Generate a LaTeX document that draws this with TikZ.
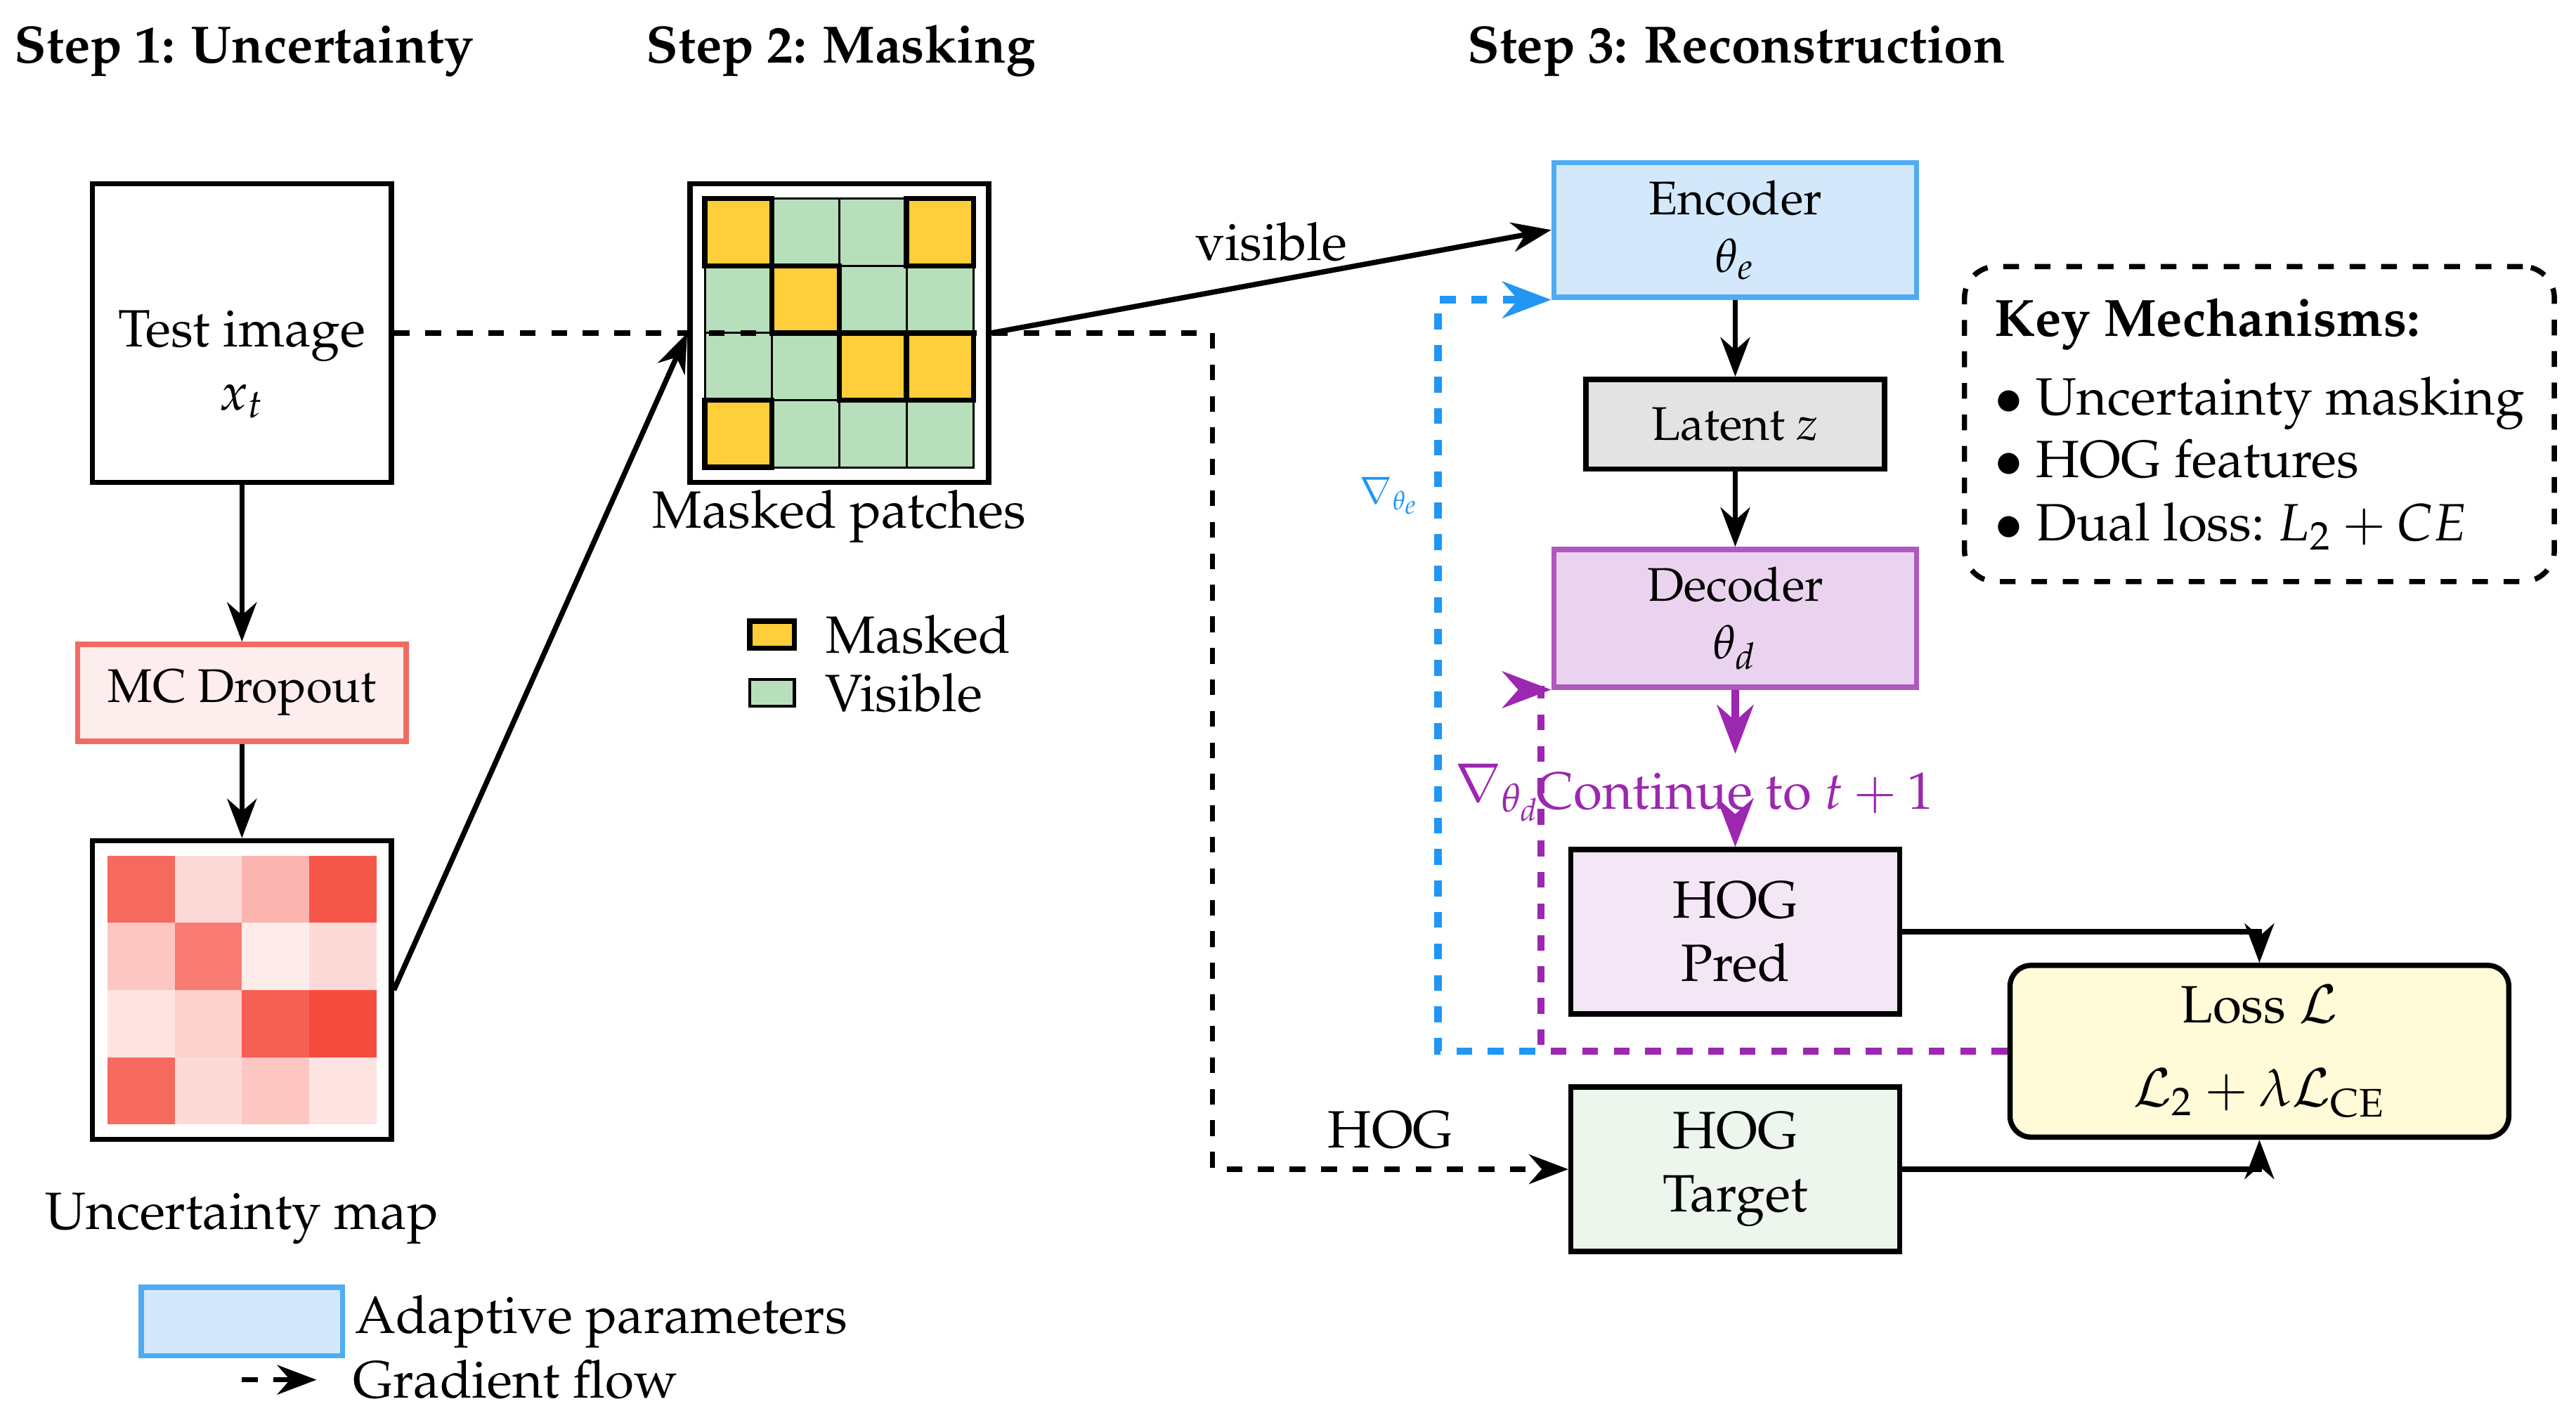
\documentclass[tikz,border=0pt]{standalone}
\usepackage[T1]{fontenc}
\usepackage{mathpazo}
\usepackage{amsmath}
\usepackage{xcolor}
\usetikzlibrary{arrows.meta, positioning, calc}
\definecolor{uncred}{HTML}{F44336}
\definecolor{maskyel}{HTML}{FFCE3A}
\definecolor{visgrn}{HTML}{B8DFBB}
\definecolor{encblue}{HTML}{4FACF3}
\definecolor{encfill}{HTML}{D3E9FB}
\definecolor{gradblue}{HTML}{2196F3}
\definecolor{decpurp}{HTML}{B057C0}
\definecolor{decfill}{HTML}{EAD3EF}
\definecolor{gradpurp}{HTML}{9C27B0}
\definecolor{dropred}{HTML}{F26B62}
\definecolor{dropfill}{HTML}{FDEDEC}
\definecolor{predfill}{HTML}{F3E6F5}
\definecolor{tgtfill}{HTML}{ECF6EC}
\definecolor{latfill}{HTML}{E3E3E3}
\definecolor{lossfill}{HTML}{FFFBD8}
\tikzset{
  imgbox/.style={rectangle, draw=black, fill=white, line width=1pt, minimum size=2cm},
  encblock/.style={rectangle, draw=encblue, fill=encfill, line width=1pt,
    minimum width=2.43cm, minimum height=0.9cm, align=center, font=\small},
  decblock/.style={rectangle, draw=decpurp, fill=decfill, line width=1pt,
    minimum width=2.43cm, minimum height=0.9cm, align=center, font=\small},
  hogblock/.style={rectangle, draw=black, line width=1pt,
    minimum width=2.2cm, minimum height=1.1cm, align=center},
  arrow/.style={-Stealth, line width=1pt, color=black},
  parrow/.style={-Stealth, line width=1.4pt, color=gradpurp},
  dasharrow/.style={-Stealth, line width=1pt, dashed, color=black},
  heading/.style={anchor=base west, inner sep=0pt, font=\bfseries}
}

\begin{document}
\begin{tikzpicture}[
  cellv/.style={draw=black, thin, fill=visgrn},
  cellm/.style={draw=black, line width=1pt, fill=maskyel},
  gradb/.style={-Stealth, line width=1.4pt, dashed, color=gradblue},
  gradp/.style={-Stealth, line width=1.4pt, dashed, color=gradpurp}]

  \useasboundingbox (0,0) rectangle (17.25,-9.54);

  % Headings
  \node[heading] (h1) at (0.09,-0.42) {Step 1: Uncertainty};
  \node[heading] (h2) at (4.32,-0.42) {Step 2: Masking};
  \node[heading] (h3) at (9.82,-0.42) {Step 3: Reconstruction};

  % Step 1
  \node[imgbox] (test) at (1.62,-2.23) {};
  \node[align=center] (testtxt) at (1.62,-2.44) {Test image\\$x_t$};
  \node[rectangle, draw=dropred, fill=dropfill, line width=1pt, minimum width=2.2cm,
    minimum height=0.65cm, font=\small] (drop) at (1.62,-4.64) {MC Dropout};
  \node[imgbox] (umap) at (1.62,-6.63) {};
  \foreach \v [count=\k from 0] in {80,20,40,90,30,70,10,20,15,25,85,95,80,20,30,15} {
    \pgfmathtruncatemacro\cc{mod(\k,4)}
    \pgfmathtruncatemacro\rr{div(\k,4)}
    \fill[uncred!\v] ($(umap.center)+(-0.9+0.45*\cc,0.9-0.45*\rr)$) rectangle ++(0.45,-0.45);
  }
  \node (umaplbl) at (1.62,-8.16) {Uncertainty map};

  \draw[arrow] (test) -- (drop);
  \draw[arrow] (drop) -- (umap);

  % Step 2
  \node[imgbox] (mask) at (5.62,-2.23) {};
  \foreach \rr in {0,...,3}
    \foreach \cc in {0,...,3}
      \draw[cellv] ($(mask.center)+(-0.9+0.45*\cc,0.9-0.45*\rr)$) rectangle ++(0.45,-0.45);
  \foreach \rr/\cc in {0/0,0/3,1/1,2/2,2/3,3/0}
    \draw[cellm] ($(mask.center)+(-0.9+0.45*\cc,0.9-0.45*\rr)$) rectangle ++(0.45,-0.45);
  \node (masklbl) at (5.62,-3.46) {Masked patches};

  \node[draw=black, line width=1pt, fill=maskyel, minimum width=0.3cm, minimum height=0.18cm,
    inner sep=0pt] (legm) at (5.17,-4.25) {};
  \node[draw=black, semithick, fill=visgrn, minimum width=0.3cm, minimum height=0.18cm,
    inner sep=0pt] (legv) at (5.17,-4.64) {};
  \node[anchor=west, xshift=2pt] (legmlbl) at (legm.east) {Masked};
  \node[anchor=west, xshift=2pt] (legvlbl) at (legv.east) {Visible};

  \draw[arrow] (umap.east) -- (mask.west);

  % Step 3
  \node[encblock] (enc) at (11.62,-1.54) {Encoder\\$\theta_e$};
  \node[rectangle, draw=black, fill=latfill, line width=1pt, minimum width=2cm,
    minimum height=0.6cm, font=\small] (lat) at (11.62,-2.84) {Latent $z$};
  \node[decblock] (dec) at (11.62,-4.14) {Decoder\\$\theta_d$};
  \node[text=gradpurp] (cont) at (11.62,-5.31) {Continue to $t+1$};
  \node[hogblock, fill=predfill] (pred) at (11.62,-6.24) {HOG\\Pred};
  \node[hogblock, fill=tgtfill] (tgt) at (11.62,-7.83) {HOG\\Target};
  \node[rectangle, draw=black, fill=lossfill, line width=1pt, rounded corners=4pt,
    minimum width=3.34cm, minimum height=1.15cm, align=center] (loss) at (15.13,-7.04)
    {Loss $\mathcal{L}$\\[4pt]$\mathcal{L}_2+\lambda\mathcal{L}_{\mathrm{CE}}$};

  \draw[arrow] (mask.east) -- node[above] {visible} (enc.west);
  \draw[arrow] (enc) -- (lat);
  \draw[arrow] (lat) -- (dec);
  \draw[parrow] (dec) -- (cont);
  \draw[parrow] (cont) -- (pred);
  \draw[arrow] (pred.east) -| (loss.north);
  \draw[arrow] (tgt.east) -| (loss.south);

  % HOG target path
  \coordinate (hogbend) at (8.12,-2.23);
  \draw[dasharrow] (test.east) -- (hogbend) |- node[above, pos=0.75] {HOG} (tgt.west);

  % Gradient flow
  \coordinate (gradE) at (9.63,0);
  \coordinate (gradD) at (10.32,0);
  \draw[gradb] (loss.west) -- (loss.west -| gradE) |- (enc.south west);
  \draw[gradp] (loss.west) -- (loss.west -| gradD) |- (dec.south west);
  \node[text=gradblue, font=\scriptsize, anchor=east] (gelbl) at (9.64,-3.32) {$\nabla_{\theta_e}$};
  \node[text=gradpurp, anchor=east] (gdlbl) at (10.45,-5.31) {$\nabla_{\theta_d}$};

  % Key mechanisms
  \node[rectangle, draw=black, line width=1pt, dashed, rounded corners=6pt,
    minimum width=3.95cm, inner ysep=0.17cm, minimum height=2.11cm, align=left] (keybox) at (15.13,-2.84)
    {\textbf{Key Mechanisms:}\\[3pt]
     $\bullet$ Uncertainty masking\\
     $\bullet$ HOG features\\
     $\bullet$ Dual loss:\ $L_2+CE$};

  % Legend
  \node[rectangle, draw=encblue, fill=encfill, line width=1pt, minimum width=1.35cm,
    minimum height=0.46cm] (adapt) at (1.62,-8.85) {};
  \node[anchor=west, xshift=-0.06cm] (adaptlbl) at (adapt.east) {Adaptive parameters};
  \coordinate (gfs) at (1.62,-9.24);
  \coordinate (gfe) at (2.12,-9.24);
  \draw[dasharrow] (gfs) -- (gfe);
  \node[anchor=west] (gflbl) at (2.24,-9.24) {Gradient flow};

\end{tikzpicture}
\end{document}
